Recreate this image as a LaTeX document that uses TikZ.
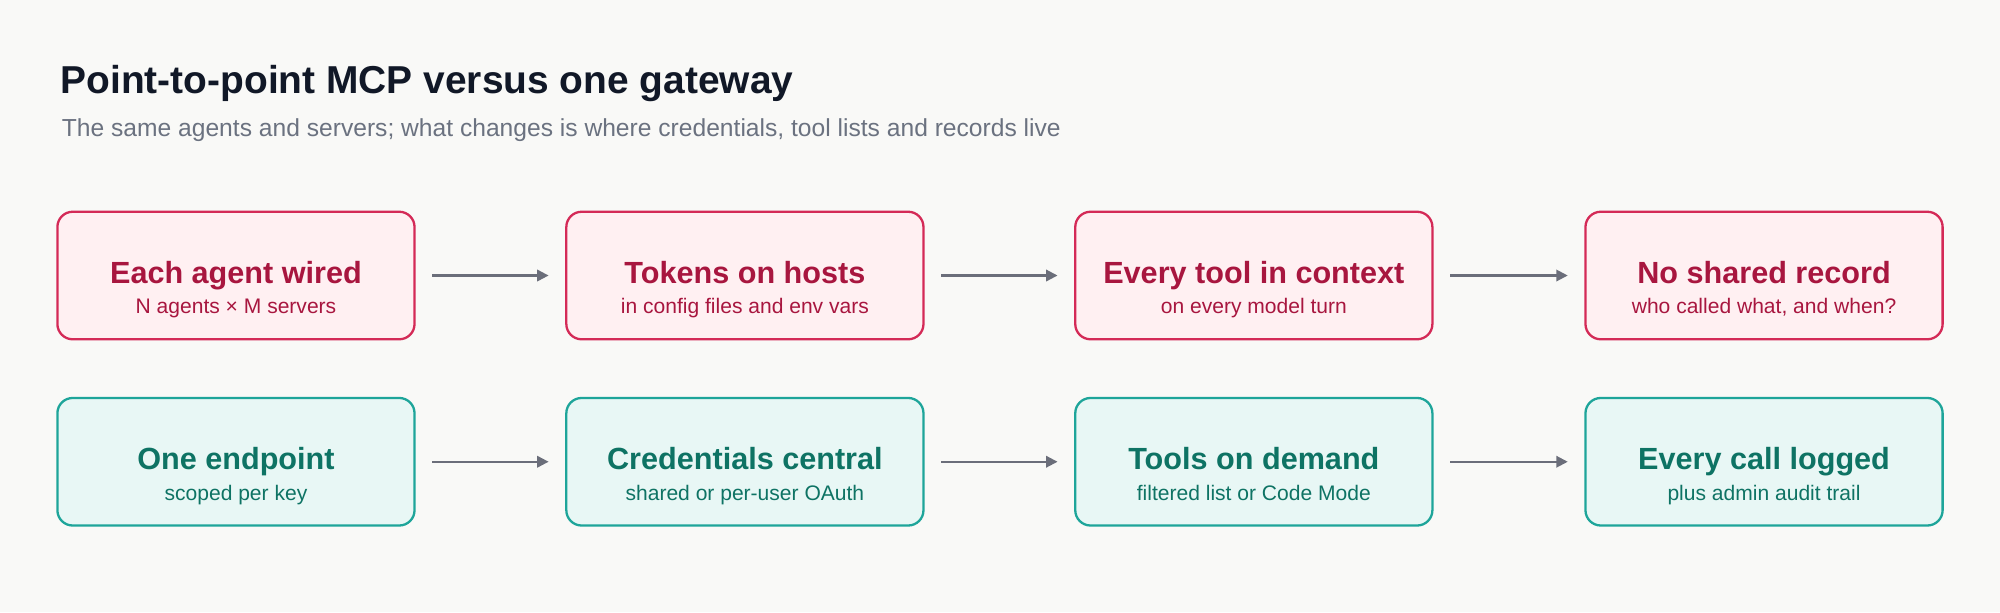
\documentclass[tikz,border=0pt]{standalone}
\usepackage{fontspec}
\setmainfont{Liberation Sans}
\usetikzlibrary{arrows.meta}
\definecolor{bg}{HTML}{F9F9F7}
\definecolor{rb}{HTML}{D42A57}
\definecolor{rf}{HTML}{FFF0F2}
\definecolor{rt}{HTML}{A8163F}
\definecolor{tb}{HTML}{1EA59A}
\definecolor{tf}{HTML}{E8F7F5}
\definecolor{tt}{HTML}{0E7364}
\definecolor{ar}{HTML}{6B6E7A}
\definecolor{ti}{HTML}{111827}
\definecolor{st}{HTML}{6B7280}
\begin{document}
\begin{tikzpicture}[x=1pt,y=-1pt,
 box/.style={draw,line width=1.8pt,rounded corners=12pt,minimum width=280pt,minimum height=100pt,inner sep=0pt},
 red/.style={box,draw=rb,fill=rf,text=rt},
 teal/.style={box,draw=tb,fill=tf,text=tt},
 hd/.style={anchor=base,font=\fontsize{24}{28}\selectfont\bfseries},
 sb/.style={anchor=base,font=\fontsize{16.5}{20}\selectfont},
 con/.style={draw=ar,line width=1.6pt,-{Triangle[length=9pt,width=9pt]}}]
\fill[bg] (0,0) rectangle (1568,480);
\useasboundingbox (0,0) rectangle (1568,480);
\node[anchor=base west,text=ti,font=\fontsize{30.5}{34}\selectfont\bfseries] (t) at (44,73) {Point-to-point MCP versus one gateway};
\node[anchor=base west,text=st,font=\fontsize{19.3}{22}\selectfont] (s) at (45,107) {The same agents and servers; what changes is where credentials, tool lists and records live};
\newcommand{\bx}[5]{\node[#1] (#2) at (#3) {};
 \node[hd,text=#1t] (#2h) at ([yshift=-6pt]#2.center) {#4};
 \node[sb,text=#1t] (#2s) at ([yshift=-30pt]#2.center) {#5};}
\colorlet{redt}{rt}\colorlet{tealt}{tt}
\bx{red}{a1}{185,216}{Each agent wired}{N agents × M servers}
\bx{red}{a2}{584,216}{Tokens on hosts}{in config files and env vars}
\bx{red}{a3}{983,216}{Every tool in context}{on every model turn}
\bx{red}{a4}{1383,216}{No shared record}{who called what, and when?}
\bx{teal}{b1}{185,362}{One endpoint}{scoped per key}
\bx{teal}{b2}{584,362}{Credentials central}{shared or per-user OAuth}
\bx{teal}{b3}{983,362}{Tools on demand}{filtered list or Code Mode}
\bx{teal}{b4}{1383,362}{Every call logged}{plus admin audit trail}
\foreach \p/\q in {a1/a2,a2/a3,a3/a4,b1/b2,b2/b3,b3/b4}
  \draw[con] ([xshift=13pt]\p.east) -- ([xshift=-13pt]\q.west);
\end{tikzpicture}
\end{document}
